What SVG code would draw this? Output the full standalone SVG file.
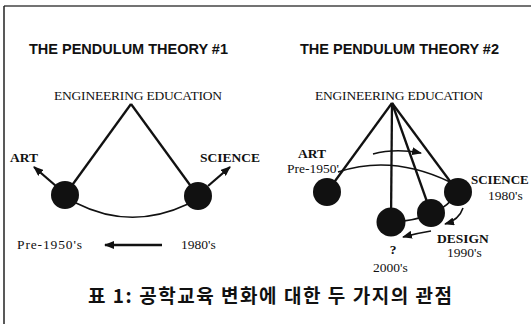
<svg xmlns="http://www.w3.org/2000/svg" width="531" height="324" viewBox="0 0 531 324">
<defs>
<style>
.title{font-family:"Liberation Sans",Arial,sans-serif;font-weight:bold;font-size:14.5px;fill:#111}
.serif{font-family:"Liberation Serif","Times New Roman",serif;font-size:13.5px;fill:#111}
.b{font-weight:bold}
.ln{stroke:#111;stroke-width:2.3;fill:none}
.thin{stroke:#111;stroke-width:1.6;fill:none}
.ball{fill:#111}
.cap{font-family:"Noto Sans CJK KR","Noto Sans CJK SC",sans-serif;font-weight:bold;font-size:19px;fill:#111}
</style>
<marker id="ah" markerWidth="10" markerHeight="8" refX="9" refY="4" orient="auto" markerUnits="userSpaceOnUse">
<path d="M0,0 L10,4 L0,8 Z" fill="#111"/>
</marker>
</defs>
<rect width="531" height="324" fill="#fff"/>
<g id="frame">
<line x1="4" y1="6" x2="531" y2="6" stroke="#444" stroke-width="1.5"/>
<line x1="4" y1="6" x2="4" y2="324" stroke="#222" stroke-width="1.5"/>
</g>
<g id="connectors">
<line class="ln" x1="131" y1="104" x2="65" y2="195"/>
<line class="ln" x1="131" y1="104" x2="198" y2="196"/>
<path class="thin" d="M76,203 Q131,231 188,204"/>
<line class="ln" x1="56" y1="186" x2="34" y2="167" marker-end="url(#ah)"/>
<line class="ln" x1="208" y1="186" x2="230" y2="167" marker-end="url(#ah)"/>
<line class="ln" x1="162" y1="245" x2="105" y2="245" marker-end="url(#ah)"/>
<line class="ln" x1="392" y1="103" x2="327" y2="192"/>
<line class="ln" x1="392" y1="103" x2="391" y2="222"/>
<line class="ln" x1="392" y1="103" x2="431" y2="213"/>
<line class="ln" x1="392" y1="103" x2="458" y2="192"/>
<path class="thin" d="M338,172 Q392,154 450,182"/>
<path class="thin" d="M391,222 Q440,220 458,192"/>
<path class="thin" d="M373,154 Q395,148 421,153" marker-end="url(#ah)"/>
<path class="thin" d="M463,208 Q459,220 445,224" marker-end="url(#ah)"/>
<path class="thin" d="M431,231 Q418,233 403,237" marker-end="url(#ah)"/>
</g>
<g id="title1"><text class="title" x="29" y="54">THE PENDULUM THEORY #1</text></g>
<g id="title2"><text class="title" x="300" y="54">THE PENDULUM THEORY #2</text></g>
<g id="apex1"><text class="serif" x="138" y="100" text-anchor="middle" textLength="168">ENGINEERING EDUCATION</text></g>
<g id="apex2"><text class="serif" x="399" y="100" text-anchor="middle" textLength="168">ENGINEERING EDUCATION</text></g>
<g id="art1"><circle class="ball" cx="65" cy="195" r="14"/><text class="serif b" x="10" y="162">ART</text></g>
<g id="science1"><circle class="ball" cx="198" cy="196" r="14"/><text class="serif b" x="200" y="162">SCIENCE</text></g>
<g id="time1"><text class="serif" x="17" y="249" textLength="65">Pre-1950's</text><text class="serif" x="181" y="249">1980's</text></g>
<g id="art2"><circle class="ball" cx="327" cy="192" r="14"/><text class="serif b" x="298" y="158">ART</text><text class="serif" x="287" y="173">Pre-1950'</text></g>
<g id="science2"><circle class="ball" cx="458" cy="192" r="14"/><text class="serif b" x="471" y="184" style="font-size:13px">SCIENCE</text><text class="serif" x="488" y="200">1980's</text></g>
<g id="design2"><circle class="ball" cx="431" cy="213" r="14"/><text class="serif b" x="437" y="243">DESIGN</text><text class="serif" x="447" y="257">1990's</text></g>
<g id="future2"><circle class="ball" cx="391" cy="222" r="14.5"/><text class="serif b" x="393" y="254" text-anchor="middle">?</text><text class="serif" x="373" y="272">2000's</text></g>
<g id="caption"><text class="cap" x="270" y="303" text-anchor="middle" textLength="364">표 1: 공학교육 변화에 대한 두 가지의 관점</text></g>
</svg>
